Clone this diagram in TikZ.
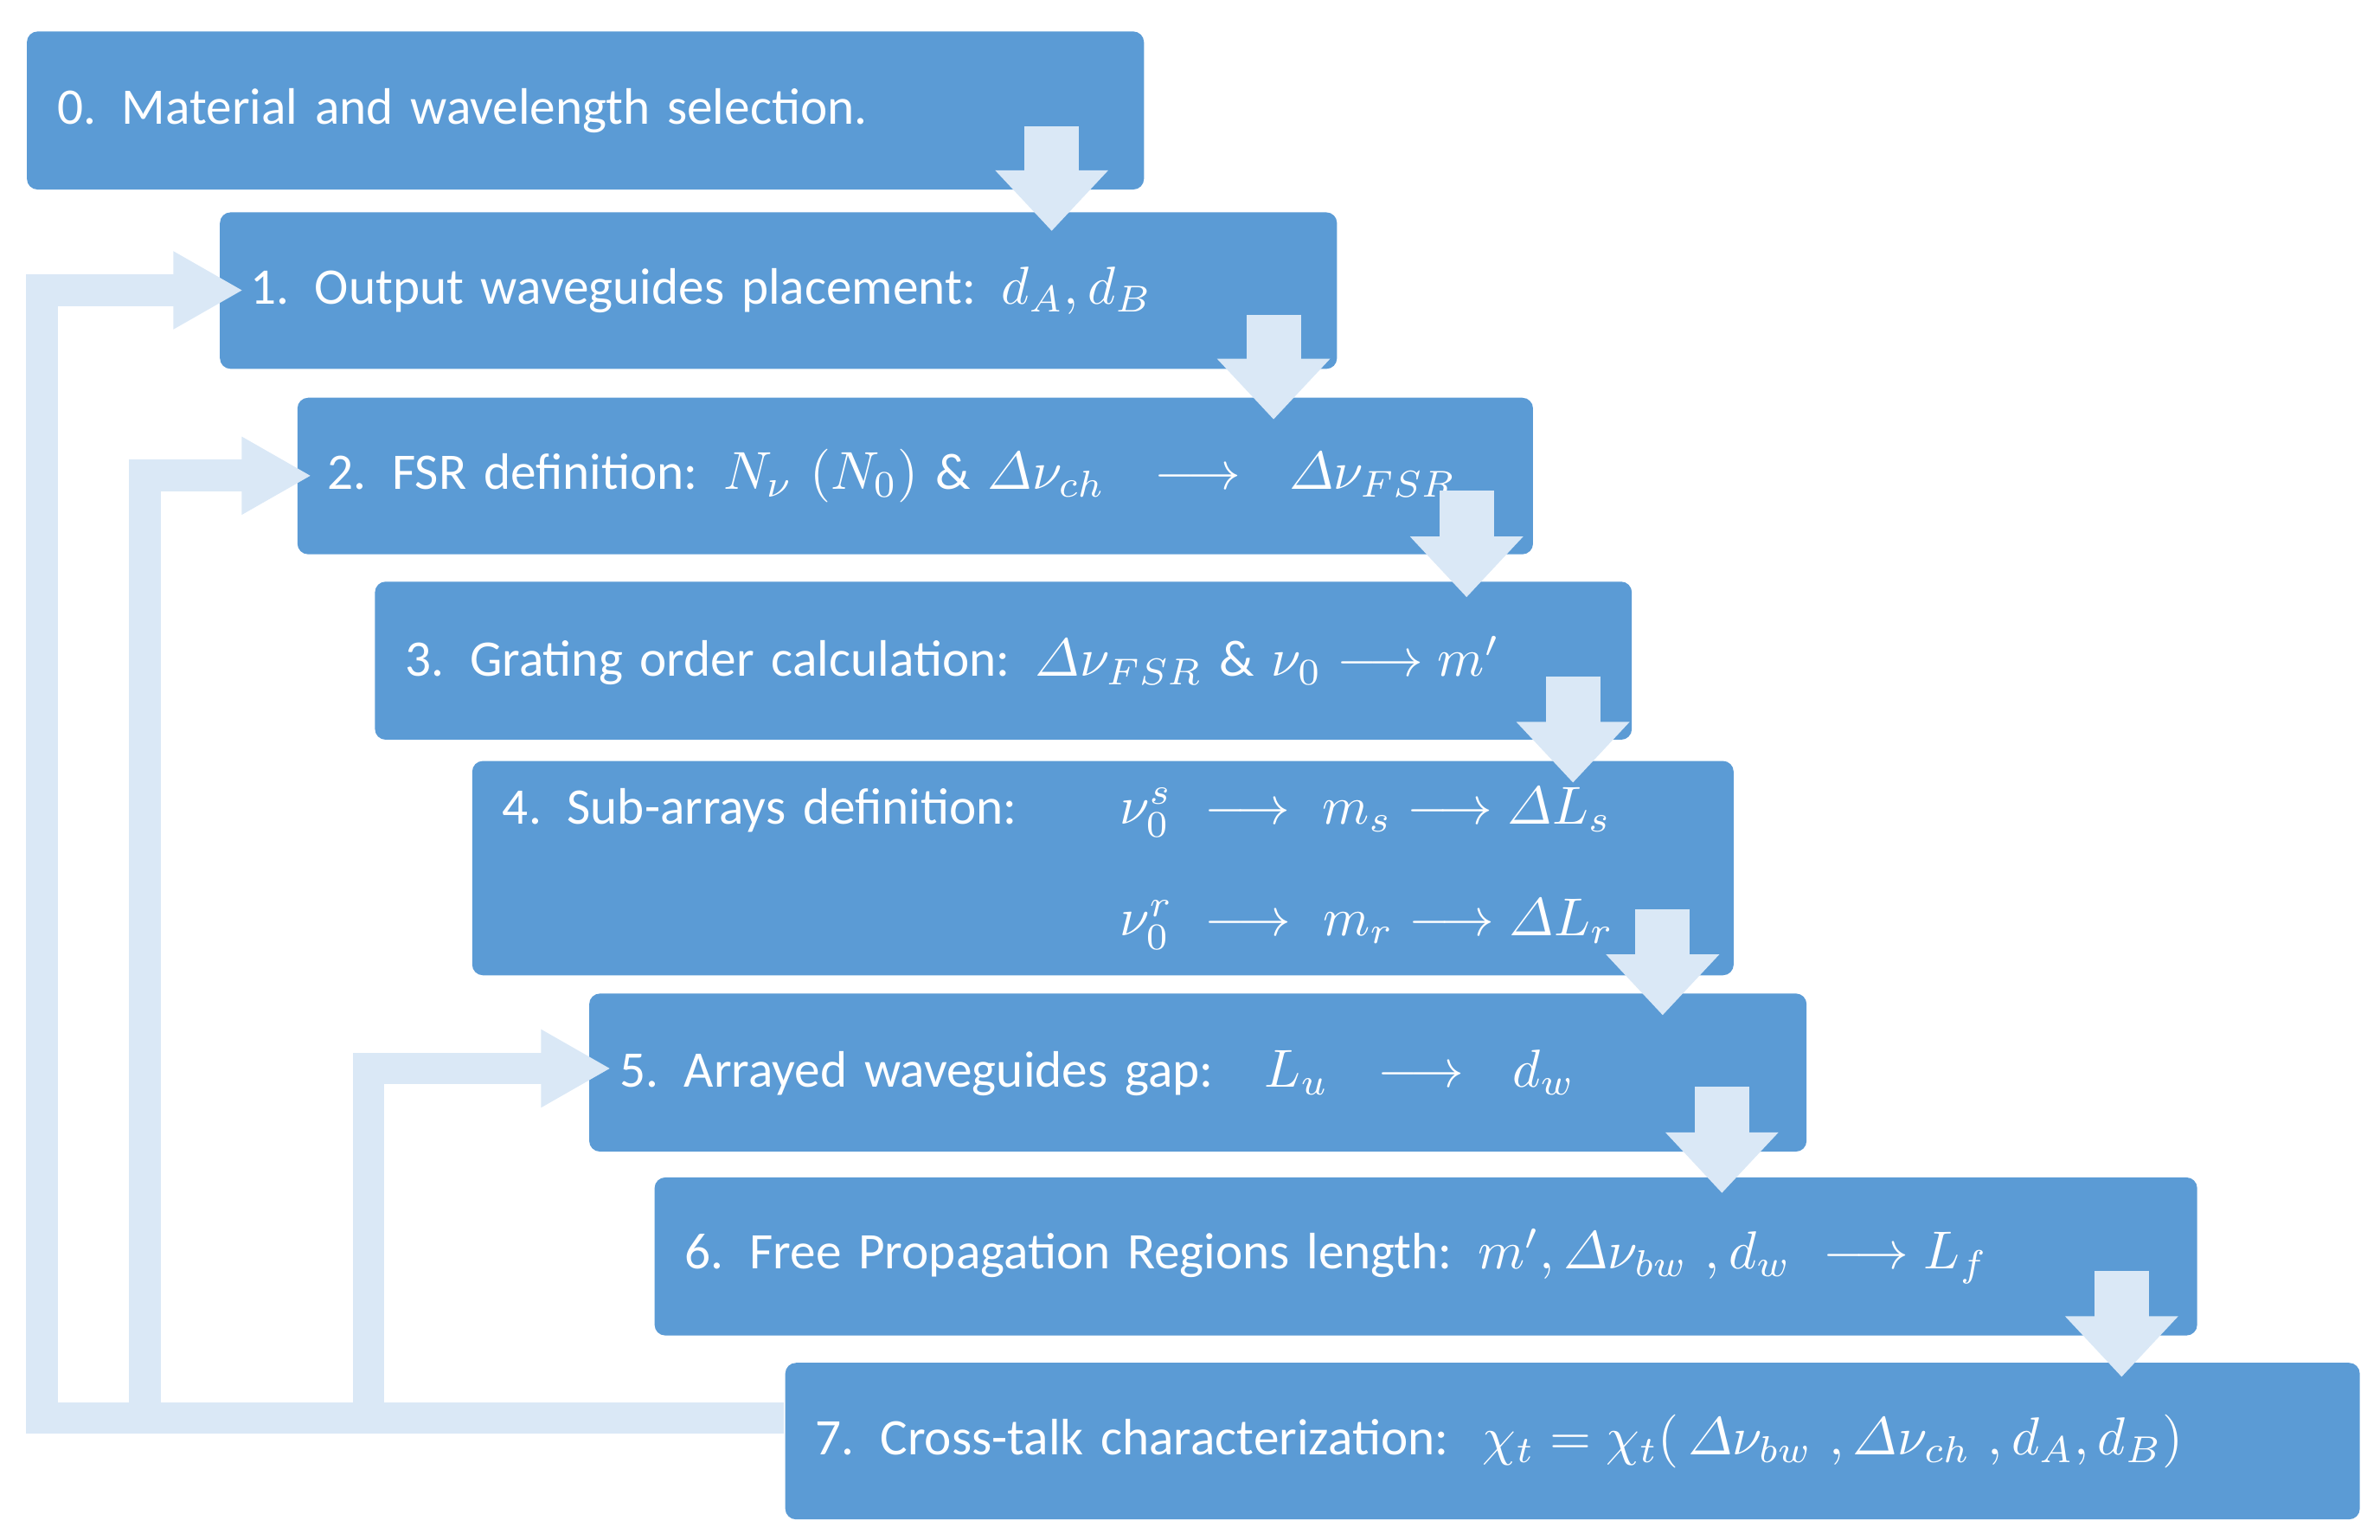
\documentclass[tikz,border=0pt]{standalone}
\usepackage{amsmath}
\usepackage{fontspec}
\setmainfont{Carlito}
\usetikzlibrary{arrows.meta}
\definecolor{stepblue}{RGB}{91,155,213}
\definecolor{flowlight}{RGB}{218,232,246}
\tikzset{
    stage/.style={fill=stepblue, rounded corners=2pt, anchor=north west, text=white,
        inner xsep=0.2cm, align=left, font=\fontsize{9.6}{21}\selectfont},
    down/.style={draw=flowlight, line width=0.36cm,
        -{Triangle[width=0.72cm,length=0.4cm]}},
    back/.style={draw=flowlight, line width=0.21cm,
        -{Triangle[width=0.48cm,length=0.46cm]}},
}
\begin{document}
\begin{tikzpicture}
    \useasboundingbox (0,0) rectangle (15.66,-10.13);

    \node[stage, minimum width=7.35cm, minimum height=1.04cm, text width=6.95cm] (s0) at (0.17,-0.20)
        {0. Material and wavelength selection.};
    \node[stage, minimum width=7.35cm, minimum height=1.03cm, text width=6.95cm] (s1) at (1.44,-1.39)
        {1. Output waveguides placement: $d_A, d_B$};
    \node[stage, minimum width=8.13cm, minimum height=1.03cm, text width=7.73cm] (s2) at (1.95,-2.61)
        {2. FSR definition: $N_\nu\ (N_0)$ \& $\varDelta\nu_{ch}\ \ \longrightarrow\ \ \varDelta\nu_{FSR}$};
    \node[stage, minimum width=8.27cm, minimum height=1.04cm, text width=7.87cm] (s3) at (2.46,-3.82)
        {3. Grating order calculation: $\varDelta\nu_{FSR}$ \& $\nu_0\longrightarrow m'$};
    \node[stage, minimum width=8.30cm, minimum height=1.41cm, text width=7.90cm] (s4) at (3.10,-5.00)
        {4. Sub-arrays definition:\ \ \ \ \ \ $\nu_0^s\ \longrightarrow\ m_s\longrightarrow \varDelta L_s$\\
         \phantom{4. Sub-arrays definition:\ \ \ \ \ \ }$\nu_0^r\ \longrightarrow\ m_r\longrightarrow \varDelta L_r$};
    \node[stage, minimum width=8.01cm, minimum height=1.04cm, text width=7.61cm] (s5) at (3.87,-6.53)
        {5. Arrayed waveguides gap:\ \ \ $L_u\ \ \longrightarrow\ \ d_w$};
    \node[stage, minimum width=10.15cm, minimum height=1.04cm, text width=9.75cm] (s6) at (4.30,-7.74)
        {6. Free Propagation Regions length: $m', \varDelta\nu_{bw}\ , d_w\ \longrightarrow L_f$};
    \node[stage, minimum width=10.36cm, minimum height=1.03cm, text width=9.96cm] (s7) at (5.16,-8.96)
        {7. Cross-talk characterization:\ \ $\chi_t = \chi_t(\,\varDelta\nu_{bw}\ , \varDelta\nu_{ch}\ , d_A, d_B)$};

    % stage to stage
    \foreach \x/\ya/\yb [count=\i] in {6.92/0.83/1.52, 8.38/2.07/2.76, 9.65/3.23/3.93,
        10.35/4.45/5.15, 10.94/5.98/6.68, 11.33/7.15/7.85, 13.96/8.36/9.06}
    {
        \coordinate (t\i) at (\x,-\ya);
        \coordinate (h\i) at (\x,-\yb);
        \draw[down] (t\i) -- (h\i);
    }

    % feedback loops from stage 7
    \coordinate (f7) at (s7.west |- 0,-9.33);
    \draw[back] (f7) -- (0.275,-9.33) -- (0.275,-1.91) -- (1.60,-1.91);
    \draw[back] (0.955,-9.33) -- (0.955,-3.13) -- (2.05,-3.13);
    \draw[back] (2.425,-9.33) -- (2.425,-7.03) -- (4.02,-7.03);
\end{tikzpicture}
\end{document}
